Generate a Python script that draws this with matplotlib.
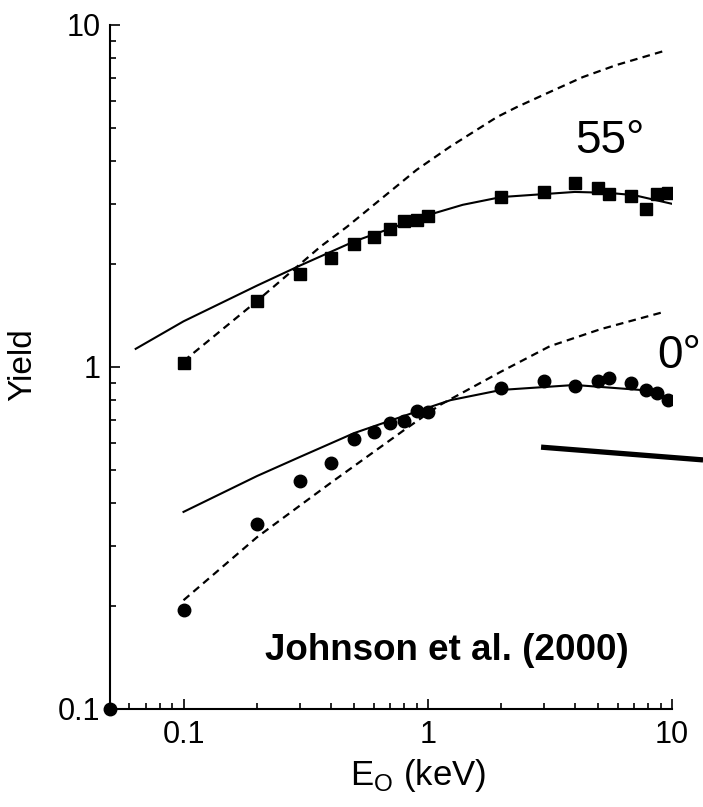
import numpy as np
import matplotlib
matplotlib.use('Agg')
import matplotlib.pyplot as plt

plt.rcParams['font.family'] = ['Liberation Sans', 'DejaVu Sans']
plt.rcParams['mathtext.fontset'] = 'custom'
plt.rcParams['mathtext.rm'] = 'Liberation Sans'
plt.rcParams['lines.scale_dashes'] = False

# measured points (keV, yield)
energy = [0.1, 0.2, 0.3, 0.4, 0.5, 0.6, 0.7, 0.8, 0.9, 1.0,
          2, 3, 4, 5, 5.5, 6.8, 7.8, 8.7, 9.6]
yield55 = [1.03, 1.56, 1.87, 2.08, 2.29, 2.40, 2.53, 2.67, 2.69, 2.76,
           3.14, 3.25, 3.45, 3.34, 3.21, 3.16, 2.90, 3.20, 3.23]
yield0 = [0.195, 0.347, 0.464, 0.524, 0.616, 0.645, 0.686, 0.695, 0.743, 0.738,
          0.868, 0.910, 0.880, 0.91, 0.929, 0.898, 0.857, 0.839, 0.80]

# fitted curves (solid)
fit55_x = [0.0637, 0.1, 0.2, 0.3, 0.5, 1.0, 1.39, 2, 4, 5.5, 7, 10]
fit55_y = [1.13, 1.36, 1.73, 1.98, 2.33, 2.78, 2.98, 3.14, 3.25, 3.23, 3.18, 3.0]
fit0_x = [0.1, 0.2, 0.3, 0.5, 1.0, 1.24, 2, 4, 7.4, 10]
fit0_y = [0.377, 0.48, 0.546, 0.641, 0.76, 0.80, 0.857, 0.886, 0.857, 0.81]

# model curves (dashed)
mod55_x = [0.1, 0.2, 0.364, 0.467, 0.658, 0.90, 1.23, 1.92, 2.31, 3.16, 4.31, 5.93, 9.3]
mod55_y = [1.04, 1.56, 2.25, 2.57, 3.14, 3.77, 4.40, 5.38, 5.75, 6.37, 7.04, 7.64, 8.4]
mod0_x = [0.1, 0.2, 0.4, 0.8, 1.12, 2.0, 3.16, 5.1, 9.3]
mod0_y = [0.208, 0.318, 0.458, 0.654, 0.774, 0.97, 1.15, 1.29, 1.45]

# stray bar across the right edge
bar_x = [2.91, 13.4]
bar_y = [0.583, 0.535]

fig = plt.figure(figsize=(7.03, 8.07), dpi=100)
ax = fig.add_axes([110/703, 1 - 709/807, 562/703, 684/807])
ax.set_xscale('log')
ax.set_yscale('log')
ax.set_xlim(0.05, 10)
ax.set_ylim(0.1, 10)

ax.plot(mod55_x, mod55_y, color='black', lw=1.6, dashes=(5.5, 3.8))
ax.plot(mod0_x, mod0_y, color='black', lw=1.6, dashes=(5.5, 3.8))
ax.plot(fit55_x, fit55_y, color='black', lw=1.5)
ax.plot(fit0_x, fit0_y, color='black', lw=1.5)
ax.plot(energy, yield55, 's', color='black', ms=8.5)
ax.plot(energy, yield0, 'o', color='black', ms=9)
ax.plot([0.05], [0.1], 'o', color='black', ms=9, clip_on=False)
ax.plot(bar_x, bar_y, color='black', lw=3.8, clip_on=False, solid_capstyle='butt')

for s in ['top', 'right']:
    ax.spines[s].set_visible(False)
for s in ['left', 'bottom']:
    ax.spines[s].set_linewidth(1.5)

ax.set_xticks([0.1, 1, 10], ['0.1', '1', '10'])
ax.set_yticks([0.1, 1, 10], ['0.1', '1', '10'])
ax.tick_params(which='both', direction='in', width=1.2, labelsize=22)
ax.tick_params(which='major', length=7, pad=8)
ax.tick_params(which='minor', length=4)
ax.tick_params(axis='y', which='major', pad=7)

ax.set_ylabel('Yield', fontsize=24)
ax.yaxis.set_label_coords(-0.128, 0.503)
ax.set_xlabel(r'E$_\mathrm{O}$ (keV)', fontsize=25)
ax.xaxis.set_label_coords(0.548, -0.07)

ax.text(0.827, 0.813, '55°', transform=ax.transAxes, fontsize=33, ha='left', va='baseline')
ax.text(0.973, 0.4985, '0°', transform=ax.transAxes, fontsize=33, ha='left', va='baseline', clip_on=False)
ax.text(0.276, 0.0716, 'Johnson et al. (2000)', transform=ax.transAxes, fontsize=26.5,
        fontweight='bold', ha='left', va='baseline')

fig.savefig('out.png', dpi=100)
